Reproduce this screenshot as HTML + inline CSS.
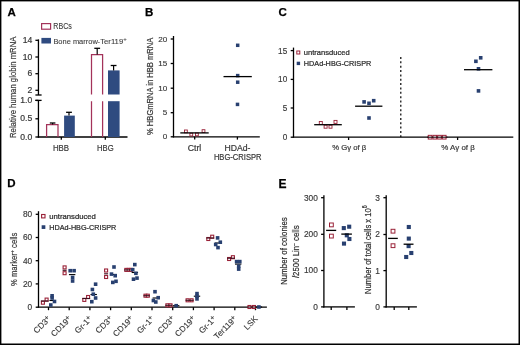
<!DOCTYPE html>
<html><head><meta charset="utf-8"><style>
html,body{margin:0;padding:0;background:#fff;}
body{width:520px;height:345px;overflow:hidden;}
svg{display:block;font-family:"Liberation Sans", sans-serif;will-change:transform;}
</style></head><body>
<svg width="520" height="345" viewBox="0 0 520 345">
<rect x="0" y="0" width="520" height="345" fill="#fff"/>
<text x="7.4" y="15.7" font-size="11.5" text-anchor="start" fill="#000" font-weight="bold" stroke="#000" stroke-width="0.25" >A</text>
<text x="144.9" y="15.7" font-size="11.5" text-anchor="start" fill="#000" font-weight="bold" stroke="#000" stroke-width="0.25" >B</text>
<text x="278.6" y="15.9" font-size="11.5" text-anchor="start" fill="#000" font-weight="bold" stroke="#000" stroke-width="0.25" >C</text>
<text x="7.2" y="187.4" font-size="11.5" text-anchor="start" fill="#000" font-weight="bold" stroke="#000" stroke-width="0.25" >D</text>
<text x="278.6" y="187.6" font-size="12.0" text-anchor="start" fill="#000" font-weight="bold" stroke="#000" stroke-width="0.25" >E</text>
<rect x="41.6" y="23.6" width="9.0" height="5.6" fill="#fff" stroke="#a3335a" stroke-width="1.2"/>
<text x="53.3" y="29.4" font-size="8.2" text-anchor="start" fill="#3c3c3c" textLength="18.5" lengthAdjust="spacingAndGlyphs" stroke="#3c3c3c" stroke-width="0.1" >RBCs</text>
<rect x="41.4" y="37.9" width="9.6" height="5.6" fill="#2f4b80" stroke="none" stroke-width="1"/>
<text x="53.4" y="43.8" font-size="7.7" text-anchor="start" fill="#3c3c3c" textLength="44.4" lengthAdjust="spacingAndGlyphs" stroke="#3c3c3c" stroke-width="0.1" >Bone marrow</text>
<text x="97.6" y="43.8" font-size="7.7" text-anchor="start" fill="#3c3c3c" textLength="25.6" lengthAdjust="spacingAndGlyphs" stroke="#3c3c3c" stroke-width="0.1" >-Ter119</text>
<text x="123.3" y="40.6" font-size="6" text-anchor="start" fill="#3c3c3c" stroke="#3c3c3c" stroke-width="0.1" >+</text>
<line x1="38.45" y1="39.4" x2="38.45" y2="95.0" stroke="#000" stroke-width="1.3" />
<line x1="38.45" y1="100.4" x2="38.45" y2="137.6" stroke="#000" stroke-width="1.3" />
<line x1="35.4" y1="95.0" x2="41.6" y2="95.0" stroke="#000" stroke-width="1.3" />
<line x1="35.4" y1="100.4" x2="41.6" y2="100.4" stroke="#000" stroke-width="1.3" />
<line x1="35.4" y1="40.3" x2="38.45" y2="40.3" stroke="#000" stroke-width="1.3" />
<text x="32.2" y="42.9" font-size="8.6" text-anchor="end" fill="#383838" stroke="#383838" stroke-width="0.2" >14</text>
<line x1="35.4" y1="57.0" x2="38.45" y2="57.0" stroke="#000" stroke-width="1.3" />
<text x="32.2" y="59.6" font-size="8.6" text-anchor="end" fill="#383838" stroke="#383838" stroke-width="0.2" >10</text>
<line x1="35.4" y1="73.7" x2="38.45" y2="73.7" stroke="#000" stroke-width="1.3" />
<text x="32.2" y="76.3" font-size="8.6" text-anchor="end" fill="#383838" stroke="#383838" stroke-width="0.2" >6</text>
<line x1="35.4" y1="90.3" x2="38.45" y2="90.3" stroke="#000" stroke-width="1.3" />
<text x="32.2" y="92.9" font-size="8.6" text-anchor="end" fill="#383838" stroke="#383838" stroke-width="0.2" >2</text>
<line x1="35.4" y1="118.8" x2="38.45" y2="118.8" stroke="#000" stroke-width="1.3" />
<text x="32.2" y="121.4" font-size="8.6" text-anchor="end" fill="#383838" stroke="#383838" stroke-width="0.2" >0.5</text>
<line x1="35.4" y1="137.0" x2="38.45" y2="137.0" stroke="#000" stroke-width="1.3" />
<text x="32.2" y="139.6" font-size="8.6" text-anchor="end" fill="#383838" stroke="#383838" stroke-width="0.2" >0.0</text>
<line x1="35.4" y1="100.4" x2="38.45" y2="100.4" stroke="#000" stroke-width="1.3" />
<text x="32.2" y="103.0" font-size="8.6" text-anchor="end" fill="#383838" stroke="#383838" stroke-width="0.2" >1.0</text>
<line x1="37.800000000000004" y1="137.0" x2="127.5" y2="137.0" stroke="#000" stroke-width="1.3" />
<line x1="61.3" y1="137.0" x2="61.3" y2="139.8" stroke="#000" stroke-width="1.3" />
<line x1="105.3" y1="137.0" x2="105.3" y2="139.8" stroke="#000" stroke-width="1.3" />
<text x="61.0" y="150.5" font-size="8.9" text-anchor="middle" fill="#383838" textLength="16.2" lengthAdjust="spacingAndGlyphs" stroke="#383838" stroke-width="0.2" >HBB</text>
<text x="105.3" y="150.5" font-size="8.9" text-anchor="middle" fill="#383838" textLength="16.6" lengthAdjust="spacingAndGlyphs" stroke="#383838" stroke-width="0.2" >HBG</text>
<path d="M46.6 137 V124.6 H58.0 V137" fill="none" stroke="#a3335a" stroke-width="1.25"/>
<line x1="52.6" y1="124.6" x2="52.6" y2="123.0" stroke="#000" stroke-width="1.2" />
<line x1="49.800000000000004" y1="123.0" x2="55.4" y2="123.0" stroke="#000" stroke-width="1.3" />
<rect x="64.1" y="115.6" width="10.700000000000003" height="21.400000000000006" fill="#2f4b80" stroke="none" stroke-width="1"/>
<line x1="69.0" y1="115.6" x2="69.0" y2="112.3" stroke="#000" stroke-width="1.2" />
<line x1="66.1" y1="112.3" x2="71.9" y2="112.3" stroke="#000" stroke-width="1.3" />
<path d="M91.5 137 V101.2 M91.5 94.5 V54.5 H102.6 V94.5 M102.6 101.2 V137" fill="none" stroke="#a3335a" stroke-width="1.25"/>
<line x1="97.2" y1="54.5" x2="97.2" y2="48.3" stroke="#000" stroke-width="1.2" />
<line x1="94.3" y1="48.3" x2="100.10000000000001" y2="48.3" stroke="#000" stroke-width="1.3" />
<rect x="108.0" y="70.4" width="11.599999999999994" height="24.099999999999994" fill="#2f4b80" stroke="none" stroke-width="1"/>
<rect x="108.0" y="101.2" width="11.599999999999994" height="35.8" fill="#2f4b80" stroke="none" stroke-width="1"/>
<line x1="113.6" y1="70.4" x2="113.6" y2="65.5" stroke="#000" stroke-width="1.2" />
<line x1="110.69999999999999" y1="65.5" x2="116.5" y2="65.5" stroke="#000" stroke-width="1.3" />
<text x="15.6" y="87.3" font-size="9.2" text-anchor="middle" fill="#383838" textLength="101.4" lengthAdjust="spacingAndGlyphs" transform="rotate(-90 15.6 87.3)" stroke="#383838" stroke-width="0.2" >Relative human globin mRNA</text>
<line x1="173.5" y1="36.0" x2="173.5" y2="137.4" stroke="#000" stroke-width="1.3" />
<line x1="170.7" y1="39.0" x2="173.5" y2="39.0" stroke="#000" stroke-width="1.3" />
<text x="167.3" y="41.5" font-size="8.1" text-anchor="end" fill="#383838" stroke="#383838" stroke-width="0.15" >20</text>
<line x1="170.7" y1="63.5" x2="173.5" y2="63.5" stroke="#000" stroke-width="1.3" />
<text x="167.3" y="66.0" font-size="8.1" text-anchor="end" fill="#383838" stroke="#383838" stroke-width="0.15" >15</text>
<line x1="170.7" y1="88.2" x2="173.5" y2="88.2" stroke="#000" stroke-width="1.3" />
<text x="167.3" y="90.7" font-size="8.1" text-anchor="end" fill="#383838" stroke="#383838" stroke-width="0.15" >10</text>
<line x1="170.7" y1="112.7" x2="173.5" y2="112.7" stroke="#000" stroke-width="1.3" />
<text x="167.3" y="115.2" font-size="8.1" text-anchor="end" fill="#383838" stroke="#383838" stroke-width="0.15" >5</text>
<line x1="170.7" y1="136.8" x2="173.5" y2="136.8" stroke="#000" stroke-width="1.3" />
<text x="167.3" y="139.3" font-size="8.1" text-anchor="end" fill="#383838" stroke="#383838" stroke-width="0.15" >0</text>
<line x1="172.85" y1="136.8" x2="259.8" y2="136.8" stroke="#000" stroke-width="1.3" />
<line x1="194.7" y1="136.8" x2="194.7" y2="139.60000000000002" stroke="#000" stroke-width="1.3" />
<line x1="237.4" y1="136.8" x2="237.4" y2="139.60000000000002" stroke="#000" stroke-width="1.3" />
<text x="194.5" y="150.7" font-size="8.4" text-anchor="middle" fill="#383838" textLength="13.6" lengthAdjust="spacingAndGlyphs" stroke="#383838" stroke-width="0.2" >Ctrl</text>
<text x="237.4" y="150.5" font-size="8.4" text-anchor="middle" fill="#383838" textLength="26.0" lengthAdjust="spacingAndGlyphs" stroke="#383838" stroke-width="0.2" >HDAd-</text>
<text x="237.7" y="160.2" font-size="8.4" text-anchor="middle" fill="#383838" textLength="47.6" lengthAdjust="spacingAndGlyphs" stroke="#383838" stroke-width="0.2" >HBG-CRISPR</text>
<rect x="184.5" y="130.0" width="2.8" height="2.8" fill="#fff" stroke="#9a2238" stroke-width="0.9"/>
<rect x="189.9" y="133.2" width="2.8" height="2.8" fill="#fff" stroke="#9a2238" stroke-width="0.9"/>
<rect x="195.5" y="133.0" width="2.8" height="2.8" fill="#fff" stroke="#9a2238" stroke-width="0.9"/>
<rect x="202.1" y="129.7" width="2.8" height="2.8" fill="#fff" stroke="#9a2238" stroke-width="0.9"/>
<line x1="180.3" y1="132.9" x2="208.7" y2="132.9" stroke="#000" stroke-width="1.3" />
<rect x="235.95" y="43.55" width="3.5" height="3.5" fill="#284070" stroke="none" stroke-width="1"/>
<rect x="235.95" y="73.85" width="3.5" height="3.5" fill="#284070" stroke="none" stroke-width="1"/>
<rect x="235.95" y="80.45" width="3.5" height="3.5" fill="#284070" stroke="none" stroke-width="1"/>
<rect x="235.75" y="102.65" width="3.5" height="3.5" fill="#284070" stroke="none" stroke-width="1"/>
<line x1="223.5" y1="76.6" x2="251.8" y2="76.6" stroke="#000" stroke-width="1.3" />
<text x="152.9" y="86.3" font-size="8.4" text-anchor="middle" fill="#383838" textLength="97.4" lengthAdjust="spacingAndGlyphs" transform="rotate(-90 152.9 86.3)" stroke="#383838" stroke-width="0.2" >% HBGmRNA in HBB mRNA</text>
<line x1="293.5" y1="47.6" x2="293.5" y2="137.6" stroke="#000" stroke-width="1.3" />
<line x1="290.7" y1="50.6" x2="293.5" y2="50.6" stroke="#000" stroke-width="1.3" />
<text x="287.2" y="53.5" font-size="8.2" text-anchor="end" fill="#383838" stroke="#383838" stroke-width="0.15" >15</text>
<line x1="290.7" y1="79.4" x2="293.5" y2="79.4" stroke="#000" stroke-width="1.3" />
<text x="287.2" y="82.3" font-size="8.2" text-anchor="end" fill="#383838" stroke="#383838" stroke-width="0.15" >10</text>
<line x1="290.7" y1="108.0" x2="293.5" y2="108.0" stroke="#000" stroke-width="1.3" />
<text x="287.2" y="110.9" font-size="8.2" text-anchor="end" fill="#383838" stroke="#383838" stroke-width="0.15" >5</text>
<line x1="290.7" y1="137.2" x2="293.5" y2="137.2" stroke="#000" stroke-width="1.3" />
<text x="287.2" y="140.1" font-size="8.2" text-anchor="end" fill="#383838" stroke="#383838" stroke-width="0.15" >0</text>
<line x1="292.85" y1="137.2" x2="513.3" y2="137.2" stroke="#000" stroke-width="1.3" />
<line x1="348.6" y1="137.2" x2="348.6" y2="140.0" stroke="#000" stroke-width="1.3" />
<line x1="457.6" y1="137.2" x2="457.6" y2="140.0" stroke="#000" stroke-width="1.3" />
<text x="349.2" y="150.2" font-size="8.0" text-anchor="middle" fill="#383838" textLength="34" lengthAdjust="spacingAndGlyphs" stroke="#383838" stroke-width="0.2" >% G&#947; of &#946;</text>
<text x="458.0" y="150.2" font-size="8.0" text-anchor="middle" fill="#383838" textLength="33.6" lengthAdjust="spacingAndGlyphs" stroke="#383838" stroke-width="0.2" >% A&#947; of &#946;</text>
<rect x="296.8" y="51.0" width="3.0" height="3.0" fill="#fff" stroke="#9a2238" stroke-width="1.0"/>
<text x="303.8" y="55.0" font-size="7.5" text-anchor="start" fill="#2a2a2a" textLength="45.9" lengthAdjust="spacingAndGlyphs" stroke="#2a2a2a" stroke-width="0.22" >untransduced</text>
<rect x="296.7" y="61.7" width="3.4" height="3.4" fill="#284070" stroke="none" stroke-width="1"/>
<text x="303.8" y="66.1" font-size="7.5" text-anchor="start" fill="#2a2a2a" textLength="67.5" lengthAdjust="spacingAndGlyphs" stroke="#2a2a2a" stroke-width="0.22" >HDAd-HBG-CRISPR</text>
<line x1="400.8" y1="57" x2="400.8" y2="137" stroke="#000" stroke-width="1.2" stroke-dasharray="2 2.35"/>
<rect x="319.3" y="121.5" width="3.0" height="3.0" fill="#fff" stroke="#9a2238" stroke-width="0.9"/>
<rect x="324.1" y="125.2" width="3.0" height="3.0" fill="#fff" stroke="#9a2238" stroke-width="0.9"/>
<rect x="329.0" y="125.2" width="3.0" height="3.0" fill="#fff" stroke="#9a2238" stroke-width="0.9"/>
<rect x="334.0" y="120.4" width="3.0" height="3.0" fill="#fff" stroke="#9a2238" stroke-width="0.9"/>
<line x1="314.2" y1="124.7" x2="341.8" y2="124.7" stroke="#000" stroke-width="1.3" />
<rect x="362.3" y="100.1" width="3.6" height="3.6" fill="#284070" stroke="none" stroke-width="1"/>
<rect x="367.2" y="101.5" width="3.6" height="3.6" fill="#284070" stroke="none" stroke-width="1"/>
<rect x="371.9" y="98.9" width="3.6" height="3.6" fill="#284070" stroke="none" stroke-width="1"/>
<rect x="367.2" y="116.2" width="3.6" height="3.6" fill="#284070" stroke="none" stroke-width="1"/>
<line x1="355.1" y1="106.2" x2="382.4" y2="106.2" stroke="#000" stroke-width="1.3" />
<rect x="428.25" y="135.35" width="3.7" height="3.7" fill="#fff" stroke="#9a2238" stroke-width="1.0"/>
<rect x="432.95" y="135.35" width="3.7" height="3.7" fill="#fff" stroke="#9a2238" stroke-width="1.0"/>
<rect x="437.65" y="135.35" width="3.7" height="3.7" fill="#fff" stroke="#9a2238" stroke-width="1.0"/>
<rect x="442.35" y="135.35" width="3.7" height="3.7" fill="#fff" stroke="#9a2238" stroke-width="1.0"/>
<line x1="427" y1="137.2" x2="447.5" y2="137.2" stroke="#1a0a10" stroke-width="1.1" />
<rect x="474.1" y="59.5" width="3.6" height="3.6" fill="#284070" stroke="none" stroke-width="1"/>
<rect x="478.9" y="56.0" width="3.6" height="3.6" fill="#284070" stroke="none" stroke-width="1"/>
<rect x="476.7" y="67.0" width="3.6" height="3.6" fill="#284070" stroke="none" stroke-width="1"/>
<rect x="476.7" y="89.1" width="3.6" height="3.6" fill="#284070" stroke="none" stroke-width="1"/>
<line x1="464" y1="69.7" x2="492.4" y2="69.7" stroke="#000" stroke-width="1.3" />
<line x1="38.5" y1="211.2" x2="38.5" y2="307.6" stroke="#000" stroke-width="1.3" />
<line x1="35.7" y1="214.3" x2="38.5" y2="214.3" stroke="#000" stroke-width="1.3" />
<text x="32.2" y="217.2" font-size="8.3" text-anchor="end" fill="#383838" stroke="#383838" stroke-width="0.15" >80</text>
<line x1="35.7" y1="237.5" x2="38.5" y2="237.5" stroke="#000" stroke-width="1.3" />
<text x="32.2" y="240.4" font-size="8.3" text-anchor="end" fill="#383838" stroke="#383838" stroke-width="0.15" >60</text>
<line x1="35.7" y1="260.7" x2="38.5" y2="260.7" stroke="#000" stroke-width="1.3" />
<text x="32.2" y="263.6" font-size="8.3" text-anchor="end" fill="#383838" stroke="#383838" stroke-width="0.15" >40</text>
<line x1="35.7" y1="283.9" x2="38.5" y2="283.9" stroke="#000" stroke-width="1.3" />
<text x="32.2" y="286.8" font-size="8.3" text-anchor="end" fill="#383838" stroke="#383838" stroke-width="0.15" >20</text>
<line x1="35.7" y1="307.2" x2="38.5" y2="307.2" stroke="#000" stroke-width="1.3" />
<text x="32.2" y="310.1" font-size="8.3" text-anchor="end" fill="#383838" stroke="#383838" stroke-width="0.15" >0</text>
<line x1="37.85" y1="307.2" x2="266.9" y2="307.2" stroke="#000" stroke-width="1.3" />
<line x1="48.5" y1="307.2" x2="48.5" y2="310.2" stroke="#000" stroke-width="1.3" />
<line x1="69.2" y1="307.2" x2="69.2" y2="310.2" stroke="#000" stroke-width="1.3" />
<line x1="89.9" y1="307.2" x2="89.9" y2="310.2" stroke="#000" stroke-width="1.3" />
<line x1="110.6" y1="307.2" x2="110.6" y2="310.2" stroke="#000" stroke-width="1.3" />
<line x1="131.3" y1="307.2" x2="131.3" y2="310.2" stroke="#000" stroke-width="1.3" />
<line x1="152.0" y1="307.2" x2="152.0" y2="310.2" stroke="#000" stroke-width="1.3" />
<line x1="172.7" y1="307.2" x2="172.7" y2="310.2" stroke="#000" stroke-width="1.3" />
<line x1="193.4" y1="307.2" x2="193.4" y2="310.2" stroke="#000" stroke-width="1.3" />
<line x1="214.1" y1="307.2" x2="214.1" y2="310.2" stroke="#000" stroke-width="1.3" />
<line x1="234.79999999999998" y1="307.2" x2="234.79999999999998" y2="310.2" stroke="#000" stroke-width="1.3" />
<line x1="255.5" y1="307.2" x2="255.5" y2="310.2" stroke="#000" stroke-width="1.3" />
<text x="51.3" y="319.4" font-size="8.3" text-anchor="end" fill="#383838" transform="rotate(-45 51.3 319.4)" stroke="#383838" stroke-width="0.12" >CD3<tspan font-size="7.4" dy="-2.0" dx="-0.3">+</tspan></text>
<text x="72.0" y="319.4" font-size="8.3" text-anchor="end" fill="#383838" transform="rotate(-45 72.0 319.4)" stroke="#383838" stroke-width="0.12" >CD19<tspan font-size="7.4" dy="-2.0" dx="-0.3">+</tspan></text>
<text x="92.7" y="319.4" font-size="8.3" text-anchor="end" fill="#383838" transform="rotate(-45 92.7 319.4)" stroke="#383838" stroke-width="0.12" >Gr-1<tspan font-size="7.4" dy="-2.0" dx="-0.3">+</tspan></text>
<text x="113.4" y="319.4" font-size="8.3" text-anchor="end" fill="#383838" transform="rotate(-45 113.4 319.4)" stroke="#383838" stroke-width="0.12" >CD3<tspan font-size="7.4" dy="-2.0" dx="-0.3">+</tspan></text>
<text x="134.1" y="319.4" font-size="8.3" text-anchor="end" fill="#383838" transform="rotate(-45 134.1 319.4)" stroke="#383838" stroke-width="0.12" >CD19<tspan font-size="7.4" dy="-2.0" dx="-0.3">+</tspan></text>
<text x="154.8" y="319.4" font-size="8.3" text-anchor="end" fill="#383838" transform="rotate(-45 154.8 319.4)" stroke="#383838" stroke-width="0.12" >Gr-1<tspan font-size="7.4" dy="-2.0" dx="-0.3">+</tspan></text>
<text x="175.5" y="319.4" font-size="8.3" text-anchor="end" fill="#383838" transform="rotate(-45 175.5 319.4)" stroke="#383838" stroke-width="0.12" >CD3<tspan font-size="7.4" dy="-2.0" dx="-0.3">+</tspan></text>
<text x="196.2" y="319.4" font-size="8.3" text-anchor="end" fill="#383838" transform="rotate(-45 196.2 319.4)" stroke="#383838" stroke-width="0.12" >CD19<tspan font-size="7.4" dy="-2.0" dx="-0.3">+</tspan></text>
<text x="216.9" y="319.4" font-size="8.3" text-anchor="end" fill="#383838" transform="rotate(-45 216.9 319.4)" stroke="#383838" stroke-width="0.12" >Gr-1<tspan font-size="7.4" dy="-2.0" dx="-0.3">+</tspan></text>
<text x="237.6" y="319.4" font-size="8.3" text-anchor="end" fill="#383838" transform="rotate(-45 237.6 319.4)" stroke="#383838" stroke-width="0.12" >Ter119<tspan font-size="7.4" dy="-2.0" dx="-0.3">+</tspan></text>
<text x="258.3" y="319.4" font-size="8.3" text-anchor="end" fill="#383838" transform="rotate(-45 258.3 319.4)" stroke="#383838" stroke-width="0.12" >LSK</text>
<rect x="41.6" y="214.5" width="3.4" height="3.4" fill="#fff" stroke="#9a2238" stroke-width="1.1"/>
<text x="49.2" y="218.6" font-size="7.5" text-anchor="start" fill="#2a2a2a" textLength="46.7" lengthAdjust="spacingAndGlyphs" stroke="#2a2a2a" stroke-width="0.22" >untransduced</text>
<rect x="41.65" y="225.25" width="3.7" height="3.7" fill="#284070" stroke="none" stroke-width="1"/>
<text x="49.2" y="229.6" font-size="7.5" text-anchor="start" fill="#2a2a2a" textLength="67.1" lengthAdjust="spacingAndGlyphs" stroke="#2a2a2a" stroke-width="0.22" >HDAd-HBG-CRISPR</text>
<text x="17.0" y="259.3" font-size="8.6" text-anchor="middle" fill="#383838" textLength="53.4" lengthAdjust="spacingAndGlyphs" transform="rotate(-90 17.0 259.3)" stroke="#383838" stroke-width="0.2" >% marker<tspan font-size="6" dy="-3.2">+</tspan><tspan dy="3.2"> cells</tspan></text>
<rect x="41.4" y="301.2" width="3.0" height="3.0" fill="#fff" stroke="#9a2238" stroke-width="1.1"/>
<rect x="45.1" y="298.1" width="3.0" height="3.0" fill="#fff" stroke="#9a2238" stroke-width="1.1"/>
<line x1="40.9" y1="301.0" x2="48.6" y2="301.0" stroke="#3a0d1c" stroke-width="1.1" />
<line x1="49.449999999999996" y1="300.5" x2="55.85" y2="300.5" stroke="#000" stroke-width="1.1" />
<rect x="50.3" y="294.0" width="3.6" height="3.6" fill="#284070" stroke="none" stroke-width="1"/>
<rect x="50.3" y="296.2" width="3.6" height="3.6" fill="#284070" stroke="none" stroke-width="1"/>
<rect x="52.7" y="299.7" width="3.6" height="3.6" fill="#284070" stroke="none" stroke-width="1"/>
<rect x="49.0" y="303.2" width="3.6" height="3.6" fill="#284070" stroke="none" stroke-width="1"/>
<rect x="63.1" y="265.9" width="3.0" height="3.0" fill="#fff" stroke="#9a2238" stroke-width="1.1"/>
<rect x="63.1" y="271.7" width="3.0" height="3.0" fill="#fff" stroke="#9a2238" stroke-width="1.1"/>
<line x1="62.599999999999994" y1="270.3" x2="66.6" y2="270.3" stroke="#3a0d1c" stroke-width="1.1" />
<line x1="68.95" y1="274.6" x2="75.35000000000001" y2="274.6" stroke="#000" stroke-width="1.1" />
<rect x="68.4" y="268.9" width="3.6" height="3.6" fill="#284070" stroke="none" stroke-width="1"/>
<rect x="72.3" y="268.9" width="3.6" height="3.6" fill="#284070" stroke="none" stroke-width="1"/>
<rect x="70.8" y="275.7" width="3.6" height="3.6" fill="#284070" stroke="none" stroke-width="1"/>
<rect x="70.8" y="279.2" width="3.6" height="3.6" fill="#284070" stroke="none" stroke-width="1"/>
<rect x="82.8" y="298.4" width="3.0" height="3.0" fill="#fff" stroke="#9a2238" stroke-width="1.1"/>
<rect x="86.6" y="295.5" width="3.0" height="3.0" fill="#fff" stroke="#9a2238" stroke-width="1.1"/>
<line x1="82.3" y1="298.5" x2="90.1" y2="298.5" stroke="#3a0d1c" stroke-width="1.1" />
<line x1="90.49999999999999" y1="294.5" x2="96.89999999999999" y2="294.5" stroke="#000" stroke-width="1.1" />
<rect x="93.8" y="282.4" width="3.6" height="3.6" fill="#284070" stroke="none" stroke-width="1"/>
<rect x="90.6" y="287.7" width="3.6" height="3.6" fill="#284070" stroke="none" stroke-width="1"/>
<rect x="91.5" y="292.4" width="3.6" height="3.6" fill="#284070" stroke="none" stroke-width="1"/>
<rect x="93.8" y="296.2" width="3.6" height="3.6" fill="#284070" stroke="none" stroke-width="1"/>
<rect x="90.0" y="299.9" width="3.6" height="3.6" fill="#284070" stroke="none" stroke-width="1"/>
<rect x="104.6" y="269.0" width="3.0" height="3.0" fill="#fff" stroke="#9a2238" stroke-width="1.1"/>
<rect x="104.6" y="275.5" width="3.0" height="3.0" fill="#fff" stroke="#9a2238" stroke-width="1.1"/>
<line x1="104.1" y1="273.8" x2="108.1" y2="273.8" stroke="#3a0d1c" stroke-width="1.1" />
<line x1="110.55" y1="274.5" x2="116.95" y2="274.5" stroke="#000" stroke-width="1.1" />
<rect x="112.2" y="265.2" width="3.6" height="3.6" fill="#284070" stroke="none" stroke-width="1"/>
<rect x="109.7" y="272.3" width="3.6" height="3.6" fill="#284070" stroke="none" stroke-width="1"/>
<rect x="113.4" y="273.9" width="3.6" height="3.6" fill="#284070" stroke="none" stroke-width="1"/>
<rect x="111.0" y="280.6" width="3.6" height="3.6" fill="#284070" stroke="none" stroke-width="1"/>
<rect x="114.2" y="279.5" width="3.6" height="3.6" fill="#284070" stroke="none" stroke-width="1"/>
<rect x="124.8" y="268.4" width="3.0" height="3.0" fill="#fff" stroke="#9a2238" stroke-width="1.1"/>
<rect x="127.1" y="268.4" width="3.0" height="3.0" fill="#fff" stroke="#9a2238" stroke-width="1.1"/>
<rect x="129.4" y="268.4" width="3.0" height="3.0" fill="#fff" stroke="#9a2238" stroke-width="1.1"/>
<line x1="124.3" y1="269.9" x2="132.9" y2="269.9" stroke="#3a0d1c" stroke-width="1.1" />
<line x1="131.65" y1="272.5" x2="138.04999999999998" y2="272.5" stroke="#000" stroke-width="1.1" />
<rect x="133.0" y="262.8" width="3.6" height="3.6" fill="#284070" stroke="none" stroke-width="1"/>
<rect x="130.9" y="267.9" width="3.6" height="3.6" fill="#284070" stroke="none" stroke-width="1"/>
<rect x="134.1" y="271.5" width="3.6" height="3.6" fill="#284070" stroke="none" stroke-width="1"/>
<rect x="131.7" y="277.4" width="3.6" height="3.6" fill="#284070" stroke="none" stroke-width="1"/>
<rect x="135.2" y="276.3" width="3.6" height="3.6" fill="#284070" stroke="none" stroke-width="1"/>
<rect x="144.0" y="294.2" width="3.0" height="3.0" fill="#fff" stroke="#9a2238" stroke-width="1.1"/>
<rect x="146.3" y="294.2" width="3.0" height="3.0" fill="#fff" stroke="#9a2238" stroke-width="1.1"/>
<line x1="143.5" y1="295.7" x2="149.8" y2="295.7" stroke="#3a0d1c" stroke-width="1.1" />
<line x1="152.60000000000002" y1="298.0" x2="159.0" y2="298.0" stroke="#000" stroke-width="1.1" />
<rect x="153.2" y="289.9" width="3.6" height="3.6" fill="#284070" stroke="none" stroke-width="1"/>
<rect x="156.4" y="295.9" width="3.6" height="3.6" fill="#284070" stroke="none" stroke-width="1"/>
<rect x="151.6" y="298.7" width="3.6" height="3.6" fill="#284070" stroke="none" stroke-width="1"/>
<rect x="154.0" y="300.2" width="3.6" height="3.6" fill="#284070" stroke="none" stroke-width="1"/>
<rect x="165.9" y="303.8" width="3.0" height="3.0" fill="#fff" stroke="#9a2238" stroke-width="1.1"/>
<rect x="169.0" y="303.8" width="3.0" height="3.0" fill="#fff" stroke="#9a2238" stroke-width="1.1"/>
<line x1="165.4" y1="305.3" x2="172.5" y2="305.3" stroke="#3a0d1c" stroke-width="1.1" />
<line x1="173.0" y1="305.7" x2="179.39999999999998" y2="305.7" stroke="#000" stroke-width="1.1" />
<rect x="174.4" y="303.9" width="3.6" height="3.6" fill="#284070" stroke="none" stroke-width="1"/>
<rect x="186.1" y="298.8" width="3.0" height="3.0" fill="#fff" stroke="#9a2238" stroke-width="1.1"/>
<rect x="190.1" y="298.8" width="3.0" height="3.0" fill="#fff" stroke="#9a2238" stroke-width="1.1"/>
<line x1="185.6" y1="300.3" x2="193.6" y2="300.3" stroke="#3a0d1c" stroke-width="1.1" />
<line x1="193.8" y1="296.2" x2="200.2" y2="296.2" stroke="#000" stroke-width="1.1" />
<rect x="195.2" y="291.8" width="3.6" height="3.6" fill="#284070" stroke="none" stroke-width="1"/>
<rect x="195.2" y="294.4" width="3.6" height="3.6" fill="#284070" stroke="none" stroke-width="1"/>
<rect x="195.2" y="297.1" width="3.6" height="3.6" fill="#284070" stroke="none" stroke-width="1"/>
<rect x="206.8" y="237.5" width="3.0" height="3.0" fill="#fff" stroke="#9a2238" stroke-width="1.1"/>
<rect x="210.7" y="235.2" width="3.0" height="3.0" fill="#fff" stroke="#9a2238" stroke-width="1.1"/>
<line x1="206.3" y1="238.0" x2="214.2" y2="238.0" stroke="#3a0d1c" stroke-width="1.1" />
<line x1="214.8" y1="243.0" x2="221.2" y2="243.0" stroke="#000" stroke-width="1.1" />
<rect x="215.8" y="236.1" width="3.6" height="3.6" fill="#284070" stroke="none" stroke-width="1"/>
<rect x="218.5" y="240.4" width="3.6" height="3.6" fill="#284070" stroke="none" stroke-width="1"/>
<rect x="213.9" y="242.7" width="3.6" height="3.6" fill="#284070" stroke="none" stroke-width="1"/>
<rect x="216.2" y="245.8" width="3.6" height="3.6" fill="#284070" stroke="none" stroke-width="1"/>
<rect x="227.6" y="257.5" width="3.0" height="3.0" fill="#fff" stroke="#9a2238" stroke-width="1.1"/>
<rect x="231.4" y="255.7" width="3.0" height="3.0" fill="#fff" stroke="#9a2238" stroke-width="1.1"/>
<line x1="227.1" y1="258.2" x2="234.9" y2="258.2" stroke="#3a0d1c" stroke-width="1.1" />
<line x1="235.0" y1="264.1" x2="241.39999999999998" y2="264.1" stroke="#000" stroke-width="1.1" />
<rect x="234.8" y="259.8" width="3.6" height="3.6" fill="#284070" stroke="none" stroke-width="1"/>
<rect x="238.0" y="259.8" width="3.6" height="3.6" fill="#284070" stroke="none" stroke-width="1"/>
<rect x="236.9" y="264.4" width="3.6" height="3.6" fill="#284070" stroke="none" stroke-width="1"/>
<rect x="236.9" y="267.3" width="3.6" height="3.6" fill="#284070" stroke="none" stroke-width="1"/>
<rect x="248.0" y="305.5" width="3.0" height="3.0" fill="#fff" stroke="#9a2238" stroke-width="1.1"/>
<rect x="252.5" y="305.5" width="3.0" height="3.0" fill="#fff" stroke="#9a2238" stroke-width="1.1"/>
<line x1="247.5" y1="307.0" x2="256.0" y2="307.0" stroke="#3a0d1c" stroke-width="1.1" />
<line x1="255.7" y1="307.0" x2="262.09999999999997" y2="307.0" stroke="#000" stroke-width="1.1" />
<rect x="257.1" y="305.2" width="3.6" height="3.6" fill="#284070" stroke="none" stroke-width="1"/>
<line x1="323.9" y1="195.3" x2="323.9" y2="307.4" stroke="#000" stroke-width="1.3" />
<line x1="321.09999999999997" y1="197.7" x2="323.9" y2="197.7" stroke="#000" stroke-width="1.3" />
<text x="317.8" y="200.6" font-size="8.3" text-anchor="end" fill="#383838" stroke="#383838" stroke-width="0.15" >300</text>
<line x1="321.09999999999997" y1="234.3" x2="323.9" y2="234.3" stroke="#000" stroke-width="1.3" />
<text x="317.8" y="237.2" font-size="8.3" text-anchor="end" fill="#383838" stroke="#383838" stroke-width="0.15" >200</text>
<line x1="321.09999999999997" y1="270.5" x2="323.9" y2="270.5" stroke="#000" stroke-width="1.3" />
<text x="317.8" y="273.4" font-size="8.3" text-anchor="end" fill="#383838" stroke="#383838" stroke-width="0.15" >100</text>
<line x1="321.09999999999997" y1="306.9" x2="323.9" y2="306.9" stroke="#000" stroke-width="1.3" />
<text x="317.8" y="309.8" font-size="8.3" text-anchor="end" fill="#383838" stroke="#383838" stroke-width="0.15" >0</text>
<line x1="323.25" y1="306.9" x2="354.9" y2="306.9" stroke="#000" stroke-width="1.3" />
<line x1="331.2" y1="306.9" x2="331.2" y2="309.9" stroke="#000" stroke-width="1.3" />
<line x1="346.9" y1="306.9" x2="346.9" y2="309.9" stroke="#000" stroke-width="1.3" />
<rect x="329.5" y="223.0" width="3.8" height="3.8" fill="#fff" stroke="#9a2238" stroke-width="1.0"/>
<rect x="329.5" y="234.2" width="3.8" height="3.8" fill="#fff" stroke="#9a2238" stroke-width="1.0"/>
<line x1="326.1" y1="230.4" x2="336.2" y2="230.4" stroke="#000" stroke-width="1.3" />
<rect x="341.75" y="226.05" width="4.1" height="4.1" fill="#284070" stroke="none" stroke-width="1"/>
<rect x="347.15" y="224.65" width="4.1" height="4.1" fill="#284070" stroke="none" stroke-width="1"/>
<rect x="344.75" y="233.25" width="4.1" height="4.1" fill="#284070" stroke="none" stroke-width="1"/>
<rect x="347.35" y="236.95" width="4.1" height="4.1" fill="#284070" stroke="none" stroke-width="1"/>
<rect x="341.95" y="241.55" width="4.1" height="4.1" fill="#284070" stroke="none" stroke-width="1"/>
<line x1="341.3" y1="234.1" x2="351.9" y2="234.1" stroke="#000" stroke-width="1.3" />
<text x="287.1" y="251.0" font-size="9.6" text-anchor="middle" fill="#2a2a2a" textLength="67.6" lengthAdjust="spacingAndGlyphs" transform="rotate(-90 287.1 251.0)" stroke="#2a2a2a" stroke-width="0.2" >Number of colonies</text>
<text x="299.2" y="251.7" font-size="9.6" text-anchor="middle" fill="#2a2a2a" textLength="52.8" lengthAdjust="spacingAndGlyphs" transform="rotate(-90 299.2 251.7)" stroke="#2a2a2a" stroke-width="0.2" >/2500 Lin<tspan font-size="6" dy="-3.4">&#8211;</tspan><tspan dy="3.4"> cells</tspan></text>
<line x1="386.2" y1="195.3" x2="386.2" y2="307.4" stroke="#000" stroke-width="1.3" />
<line x1="383.4" y1="197.7" x2="386.2" y2="197.7" stroke="#000" stroke-width="1.3" />
<text x="380.0" y="200.6" font-size="8.4" text-anchor="end" fill="#383838" stroke="#383838" stroke-width="0.15" >3</text>
<line x1="383.4" y1="234.5" x2="386.2" y2="234.5" stroke="#000" stroke-width="1.3" />
<text x="380.0" y="237.4" font-size="8.4" text-anchor="end" fill="#383838" stroke="#383838" stroke-width="0.15" >2</text>
<line x1="383.4" y1="270.6" x2="386.2" y2="270.6" stroke="#000" stroke-width="1.3" />
<text x="380.0" y="273.5" font-size="8.4" text-anchor="end" fill="#383838" stroke="#383838" stroke-width="0.15" >1</text>
<line x1="383.4" y1="306.9" x2="386.2" y2="306.9" stroke="#000" stroke-width="1.3" />
<text x="380.0" y="309.8" font-size="8.4" text-anchor="end" fill="#383838" stroke="#383838" stroke-width="0.15" >0</text>
<line x1="385.55" y1="306.9" x2="416.9" y2="306.9" stroke="#000" stroke-width="1.3" />
<line x1="394.2" y1="306.9" x2="394.2" y2="309.9" stroke="#000" stroke-width="1.3" />
<line x1="408.8" y1="306.9" x2="408.8" y2="309.9" stroke="#000" stroke-width="1.3" />
<rect x="391.1" y="229.3" width="3.8" height="3.8" fill="#fff" stroke="#9a2238" stroke-width="1.0"/>
<rect x="391.1" y="243.8" width="3.8" height="3.8" fill="#fff" stroke="#9a2238" stroke-width="1.0"/>
<line x1="388.1" y1="238.4" x2="397.8" y2="238.4" stroke="#000" stroke-width="1.3" />
<rect x="406.75" y="224.95" width="4.1" height="4.1" fill="#284070" stroke="none" stroke-width="1"/>
<rect x="406.75" y="236.55" width="4.1" height="4.1" fill="#284070" stroke="none" stroke-width="1"/>
<rect x="406.55" y="244.05" width="4.1" height="4.1" fill="#284070" stroke="none" stroke-width="1"/>
<rect x="409.25" y="250.95" width="4.1" height="4.1" fill="#284070" stroke="none" stroke-width="1"/>
<rect x="404.15" y="254.95" width="4.1" height="4.1" fill="#284070" stroke="none" stroke-width="1"/>
<line x1="403.6" y1="244.2" x2="413.5" y2="244.2" stroke="#000" stroke-width="1.3" />
<text x="370.6" y="249.7" font-size="9.6" text-anchor="middle" fill="#2a2a2a" textLength="88.6" lengthAdjust="spacingAndGlyphs" transform="rotate(-90 370.6 249.7)" stroke="#2a2a2a" stroke-width="0.2" >Number of total cells x 10<tspan font-size="6.5" dy="-3.6">6</tspan></text>
<rect x="0" y="0" width="520" height="1.4" fill="#000"/>
<rect x="0" y="0" width="1.4" height="345" fill="#000"/>
<rect x="518.5" y="0" width="1.5" height="345" fill="#000"/>
<rect x="0" y="343.5" width="520" height="1.5" fill="#000"/>
</svg>
</body></html>
